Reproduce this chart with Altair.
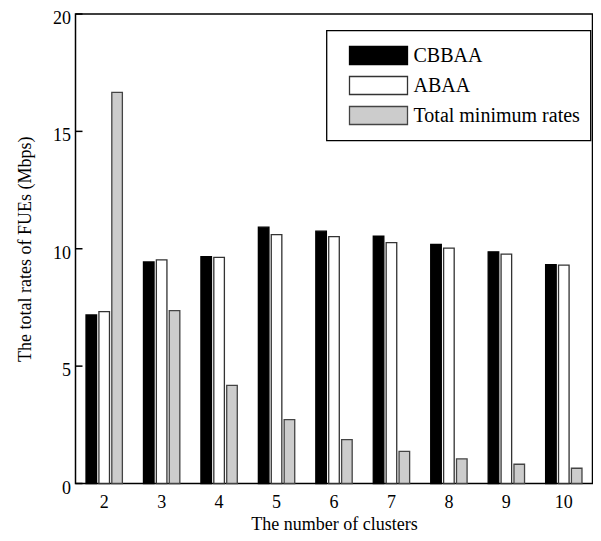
import altair as alt
import pandas as pd

clusters = [2, 3, 4, 5, 6, 7, 8, 9, 10]
cbbaa = [7.18, 9.44, 9.66, 10.92, 10.75, 10.54, 10.19, 9.87, 9.32]
abaa = [7.32, 9.53, 9.63, 10.60, 10.52, 10.26, 10.03, 9.77, 9.30]
total_min = [16.66, 7.36, 4.18, 2.72, 1.87, 1.37, 1.05, 0.82, 0.65]

series_names = ["CBBAA", "ABAA", "Total minimum rates"]
fill_colors = ["#000000", "#ffffff", "#cccccc"]
stroke_colors = ["#000000", "#333333", "#444444"]
y_ticks = [0, 5, 10, 15, 20]

rows = []
for i, c in enumerate(clusters):
    for name, vals in zip(series_names, [cbbaa, abaa, total_min]):
        rows.append({"cluster": c, "series": name, "rate": vals[i]})
df = pd.DataFrame(rows)
ticks_df = pd.DataFrame({"v": y_ticks})

font = "Liberation Serif"
y_scale = alt.Scale(domain=[0, 20], nice=False, zero=True)
y_axis = alt.Axis(values=y_ticks, title="The total rates of FUEs (Mbps)",
                  ticks=False, domain=False, grid=False, labelPadding=5,
                  labelOffset=4.5, titlePadding=18)

bars = alt.Chart(df).mark_bar(strokeWidth=1.3).encode(
    x=alt.X(
        "cluster:O",
        scale=alt.Scale(paddingInner=0.367, paddingOuter=0.183),
        axis=alt.Axis(title="The number of clusters", labelAngle=0, ticks=False,
                      domain=False, labelPadding=10, titlePadding=4),
    ),
    xOffset=alt.XOffset("series:N", sort=series_names,
                        scale=alt.Scale(paddingInner=0.18, paddingOuter=0)),
    y=alt.Y("rate:Q", scale=y_scale, axis=y_axis),
    fill=alt.Fill(
        "series:N", sort=series_names,
        scale=alt.Scale(domain=series_names, range=fill_colors),
        legend=alt.Legend(title=None, orient="none", legendX=251, legendY=16.5,
                          symbolType="M-1,-0.31L1,-0.31L1,0.31L-1,0.31Z",
                          symbolSize=3364, symbolStrokeColor="#333333",
                          symbolStrokeWidth=1.3, symbolOpacity=1,
                          clipHeight=30, labelLimit=400),
    ),
    stroke=alt.Stroke("series:N", scale=alt.Scale(domain=series_names, range=stroke_colors),
                      legend=None),
)

ticks = alt.Chart(ticks_df).mark_rule(color="black", strokeWidth=1.5).encode(
    y=alt.Y("v:Q", scale=y_scale, axis=y_axis),
    x=alt.value(0),
    x2=alt.value(7),
)

chart = alt.layer(bars, ticks).properties(
    width=517,
    height=469.5,
    autosize=alt.AutoSizeParams(type="none"),
    padding={"left": 67.5, "top": 6, "right": 0, "bottom": 49},
).configure_view(
    stroke="black", strokeWidth=1.5
).configure_axis(
    labelFont=font, labelFontSize=18, labelColor="black",
    titleFont=font, titleFontSize=18, titleFontWeight="normal", titleColor="black",
).configure_legend(
    labelFont=font, labelFontSize=20, labelColor="black", labelOffset=5,
    padding=10, symbolOffset=12, rowPadding=0,
    strokeColor="black", strokeWidth=1.3, fillColor="white",
)

chart.save("out.html", embed_options={"renderer": "svg", "actions": False})
